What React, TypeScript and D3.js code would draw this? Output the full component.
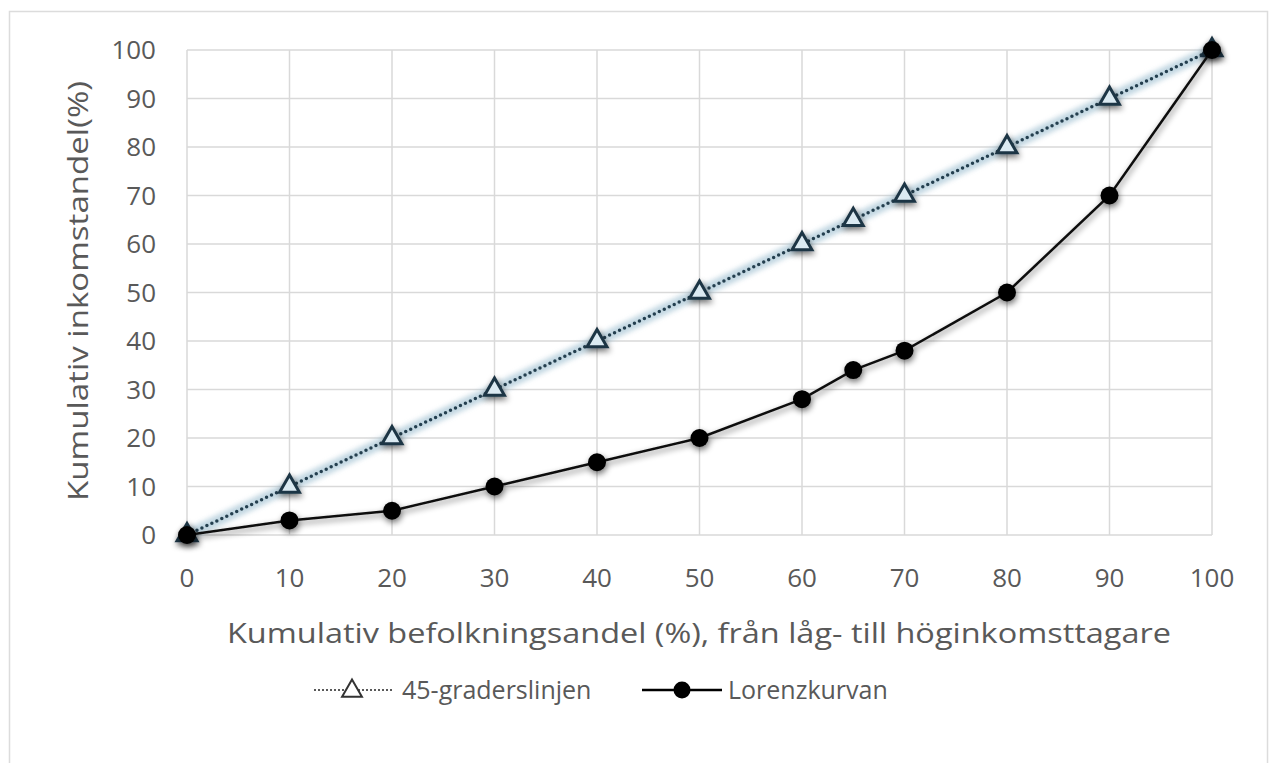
import React from "react";
import * as d3 from "d3";

const xValues = [0, 10, 20, 30, 40, 50, 60, 65, 70, 80, 90, 100];
const equalityValues = [0, 10, 20, 30, 40, 50, 60, 65, 70, 80, 90, 100];
const lorenzValues = [0, 3, 5, 10, 15, 20, 28, 34, 38, 50, 70, 100];
const xTicks = [0, 10, 20, 30, 40, 50, 60, 70, 80, 90, 100];
const yTicks = [0, 10, 20, 30, 40, 50, 60, 70, 80, 90, 100];
const seriesNames = ["45-graderslinjen", "Lorenzkurvan"];
const xTitle = "Kumulativ befolkningsandel (%), från låg- till höginkomsttagare";
const yTitle = "Kumulativ inkomstandel(%)";

const W = 1274;
const H = 763;
const plot = { left: 187, right: 1212, top: 50, bottom: 535 };
const textColor = "#595959";
const gridColor = "#d9d9d9";
const font = "'Open Sans', 'Liberation Sans', sans-serif";

export default function App() {
  const x = d3.scaleLinear().domain([0, 100]).range([plot.left, plot.right]);
  const y = d3.scaleLinear().domain([0, 100]).range([plot.bottom, plot.top]);
  const eqPts = xValues.map((v, i) => [x(v), y(equalityValues[i])] as [number, number]);
  const lzPts = xValues.map((v, i) => [x(v), y(lorenzValues[i])] as [number, number]);
  const line = d3.line();
  const tri = d3.symbol().type(d3.symbolTriangle).size(170)();
  const legendTri = d3.symbol().type(d3.symbolTriangle).size(170)();

  return (
    <svg width={W} height={H} style={{ position: "absolute", left: 0, top: 0, display: "block" }}>
      <defs>
        <filter id="glow" x="-30%" y="-30%" width="160%" height="160%">
          <feGaussianBlur in="SourceAlpha" stdDeviation="3" />
          <feOffset dx="1" dy="3" result="b" />
          <feComponentTransfer>
            <feFuncA type="linear" slope="0.55" />
          </feComponentTransfer>
          <feMerge>
            <feMergeNode />
            <feMergeNode in="SourceGraphic" />
          </feMerge>
        </filter>
        <filter id="bluegl" x="-10%" y="-10%" width="120%" height="120%">
          <feGaussianBlur stdDeviation="2.5" />
        </filter>
      </defs>
      <rect x={0} y={0} width={W} height={H} fill="#fff" />
      <rect x={9.5} y={11.5} width={1258} height={780} fill="#fff" stroke="#dcdcdc" strokeWidth={1.5} />

      {/* grid */}
      {yTicks.map((t) => (
        <line key={"gy" + t} x1={plot.left} x2={plot.right} y1={y(t)} y2={y(t)} stroke={gridColor} strokeWidth={1.5} />
      ))}
      {xTicks.map((t) => (
        <line key={"gx" + t} x1={x(t)} x2={x(t)} y1={plot.top} y2={plot.bottom} stroke={gridColor} strokeWidth={1.5} />
      ))}

      {/* y tick labels */}
      {yTicks.map((t) => (
        <text key={"ty" + t} x={156} y={y(t)} dy="0.36em" textAnchor="end" fontFamily={font} fontSize={26} fill={textColor}>
          {t}
        </text>
      ))}
      {/* x tick labels */}
      {xTicks.map((t) => (
        <text key={"tx" + t} x={x(t)} y={587} textAnchor="middle" fontFamily={font} fontSize={26} fill={textColor}>
          {t}
        </text>
      ))}

      {/* axis titles */}
      <text x={699} y={643} textAnchor="middle" fontFamily={font} fontSize={27} fill={textColor} textLength={944} lengthAdjust="spacingAndGlyphs">
        {xTitle}
      </text>
      <text transform="translate(88,291) rotate(-90)" textAnchor="middle" fontFamily={font} fontSize={27} fill={textColor} textLength={420} lengthAdjust="spacingAndGlyphs">
        {yTitle}
      </text>

      {/* 45-degree line */}
      <path d={line(eqPts) || ""} fill="none" stroke="#adc9d8" strokeWidth={11} opacity={0.75} filter="url(#bluegl)" />
      <path d={line(eqPts) || ""} fill="none" stroke="#243f4f" strokeWidth={3.5} strokeDasharray="0 5.5" strokeLinecap="round" />
      <g filter="url(#glow)">
        {eqPts.map((p, i) => (
          <path key={"tr" + i} d={tri || ""} transform={`translate(${p[0]},${p[1]})`} fill="#dbeaf2" stroke="#1e3544" strokeWidth={3} />
        ))}
      </g>

      {/* Lorenz curve */}
      <g filter="url(#glow)">
        <path d={line(lzPts) || ""} fill="none" stroke="#111" strokeWidth={2.5} />
        {lzPts.map((p, i) => (
          <circle key={"lc" + i} cx={p[0]} cy={p[1]} r={9} fill="#000" />
        ))}
      </g>

      {/* legend */}
      <g>
        <line x1={314} x2={392} y1={690} y2={690} stroke={textColor} strokeWidth={2} strokeDasharray="2 2" />
        <path d={legendTri || ""} transform="translate(352,691)" fill="#fff" stroke="#333" strokeWidth={2} />
        <text x={402} y={690} dy="0.36em" fontFamily={font} fontSize={25} fill={textColor}>
          {seriesNames[0]}
        </text>
        <line x1={642} x2={722} y1={690} y2={690} stroke="#000" strokeWidth={2.5} />
        <circle cx={682} cy={690} r={8.5} fill="#000" />
        <text x={728} y={690} dy="0.36em" fontFamily={font} fontSize={25} fill={textColor}>
          {seriesNames[1]}
        </text>
      </g>
    </svg>
  );
}
